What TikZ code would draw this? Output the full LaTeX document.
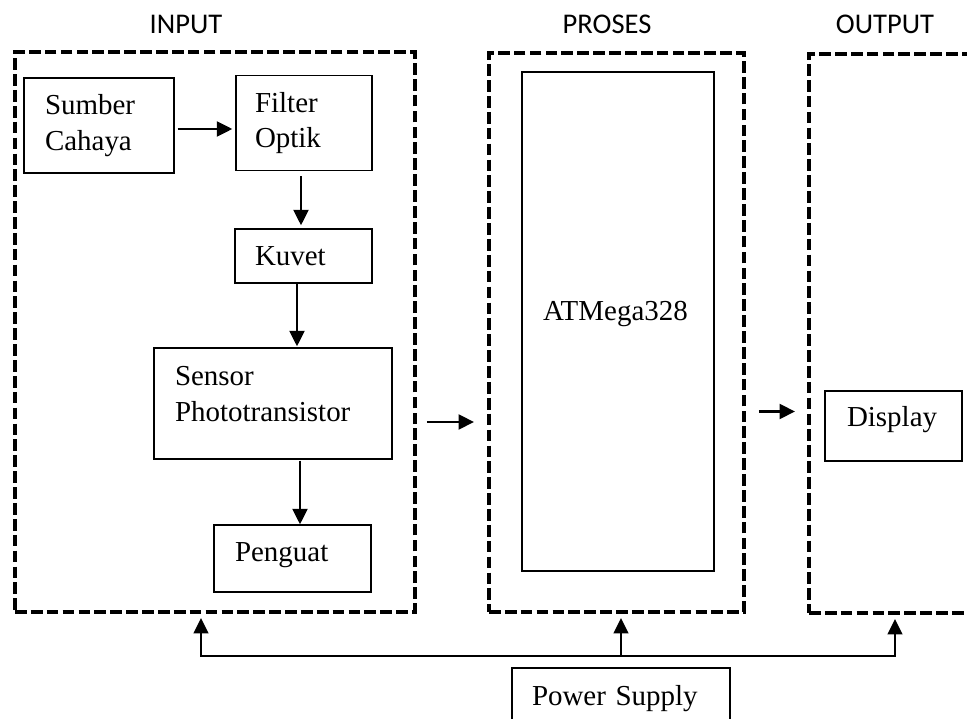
\documentclass[tikz,border=0pt]{standalone}
\usepackage{fontspec}
\setmainfont{Liberation Serif}
\newfontfamily\calibri{Carlito}
\usetikzlibrary{arrows.meta,calc}
\hyphenpenalty=10000
\newcommand{\teks}{\fontsize{20.6pt}{25.2pt}\selectfont}
\newcommand{\judul}{\calibri\fontsize{20.3pt}{24pt}\selectfont}
\tikzset{
  kotak/.style={draw, line width=0.9pt, align=left, inner ysep=0pt, inner xsep=0.525cm, font=\teks},
  wadah/.style={draw, line width=2.8pt, dash pattern=on 8.3pt off 3pt, inner sep=0pt},
  panah/.style={->, line width=2pt},
  daya/.style={line width=1.5pt},
}
\begin{document}
\begin{tikzpicture}[>={Triangle[length=11pt,width=10.5pt]}]
    \useasboundingbox (0,0) rectangle (24.175,17.975);
    \clip (0,0) rectangle (24.175,17.975);

    % Judul
    \node[font=\judul] (jinput) at (4.65,17.3625) {INPUT};
    \node[font=\judul] (jproses) at (15.175,17.3625) {PROSES};
    \node[font=\judul] (joutput) at (22.125,17.3625) {OUTPUT};

    % Kotak putus-putus
    \node[wadah, minimum width=10cm, minimum height=14cm] (input) at (5.375,9.675) {};
    \node[wadah, minimum width=6.375cm, minimum height=13.975cm] (proses) at (15.4125,9.6625) {};
    \node[wadah, minimum width=5cm, minimum height=13.975cm] (output) at (22.725,9.6375) {};

    % Blok input
    \node[kotak, text width=2.7cm, minimum height=2.375cm] (sumber) at (2.475,14.8375) {Sumber\\Cahaya};
    \node[kotak, inner xsep=0.475cm, text width=2.45cm, minimum height=2.375cm] (filter) at (7.6,14.9) {Filter\\Optik};
    \node[kotak, inner xsep=0.5cm, text width=2.425cm, minimum height=1.35cm] (kuvet) at (7.5875,11.575) {Kuvet};
    \node[kotak, text width=4.9cm, minimum height=2.775cm, text height=0.495cm, text depth=1.37cm] (sensor) at (6.825,7.8875) {Sensor\\Phototransistor};
    \node[kotak, text width=2.875cm, minimum height=1.675cm, text height=0.495cm, text depth=0.32cm] (penguat) at (7.3125,4.0125) {Penguat};

    % Blok proses
    \node[kotak, line width=1.4pt, text width=3.75cm, minimum height=12.475cm, text height=0.495cm, text depth=0.52cm] (atmega) at (15.45,9.9375) {ATMega328};

    % Blok output
    \node[kotak, inner xsep=0.55cm, text width=2.325cm, minimum height=1.75cm, text height=0.495cm, text depth=0.445cm] (display) at (22.3375,7.325) {Display};

    % Catu daya
    \node[kotak, inner xsep=0.5cm, text width=4.45cm, minimum height=1.55cm] (power) at (15.525,0.5) {Power Supply};

    % Panah di dalam input
    \draw[panah] ($(sumber.east)+(0.075,-0.0875)$) -- ($(sumber.east -| filter.west)+(-0.075,-0.0875)$);
    \draw[panah] ($(filter.south)+(-0.075,-0.125)$) -- ($(filter.south |- kuvet.north)+(-0.075,0.075)$);
    \draw[panah] ($(kuvet.south)+(-0.1625,0)$) -- ($(kuvet.south |- sensor.north)+(-0.1625,0.025)$);
    \draw[panah] ($(sensor.south)+(0.675,-0.025)$) -- ($(sensor.south |- penguat.north)+(0.675,0)$);

    % Panah antar blok
    \draw[panah] ($(input.east)+(0.25,-2.25)$) -- ($(input.east -| proses.west)+(-0.325,-2.25)$);
    \draw[panah] ($(proses.east)+(0.325,-1.975)$) -- ($(proses.east -| output.west)+(-0.3,-1.975)$);

    % Jalur catu daya
    \coordinate (ki) at ($(input.south)+(-0.35,-1.05)$);
    \coordinate (kt) at ($(proses.south)+(0.1125,-1.05)$);
    \coordinate (ka) at ($(output.south)+(-0.35,-1.025)$);
    \draw[daya, <->] ($(input.south -| ki)+(0,-0.1)$) -- (ki) -- (ka) -- ($(output.south -| ka)+(0,-0.1)$);
    \draw[daya, ->] (kt) -- ($(proses.south -| kt)+(0,-0.1)$);
\end{tikzpicture}
\end{document}
